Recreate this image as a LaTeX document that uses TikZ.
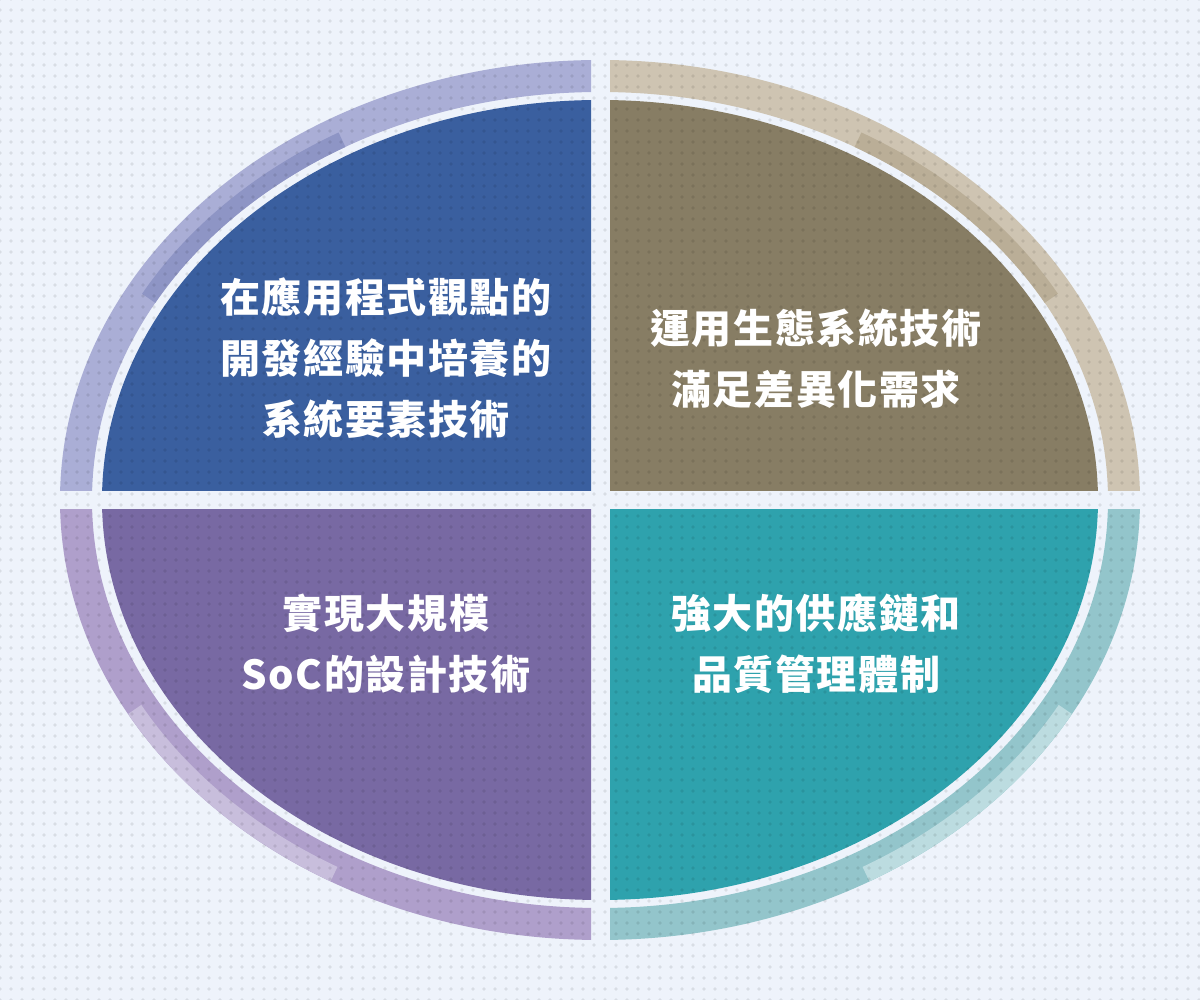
\documentclass[tikz,border=0pt]{standalone}
\usepackage{fontspec}
\newfontfamily\cjk[LetterSpace=4]{Noto Sans CJK TC}
\usetikzlibrary{patterns.meta}
\definecolor{bgc}{HTML}{EEF3FB}
\definecolor{tlfill}{HTML}{3A5F9F}
\definecolor{trfill}{HTML}{877D64}
\definecolor{blfill}{HTML}{7869A3}
\definecolor{brfill}{HTML}{2EA2AD}
\definecolor{tlring}{HTML}{AAAED6}
\definecolor{tlband}{HTML}{8E95C5}
\definecolor{trring}{HTML}{CEC4B2}
\definecolor{trband}{HTML}{BAAE97}
\definecolor{blring}{HTML}{AF9FCB}
\definecolor{blband}{HTML}{C8BEDC}
\definecolor{brring}{HTML}{93C5CB}
\definecolor{brband}{HTML}{BCDCE0}
\begin{document}
\begin{tikzpicture}[x=1pt,y=1pt,
  lbl/.style={text=white, align=center, font=\cjk\bfseries\fontsize{40}{61}\selectfont, inner sep=0pt},
  ringline/.style={line width=32pt},
  bandline/.style={line width=16pt, line cap=butt}]
\fill[bgc] (0,0) rectangle (1200,1000);
\useasboundingbox (0,0) rectangle (1200,1000);
% top left
\begin{scope}
\clip (0,509) rectangle (591,1000);
\fill[tlfill] (600,500) ellipse [x radius=498pt, y radius=400pt];
\draw[ringline, tlring] (600,500) ellipse [x radius=524pt, y radius=424pt];
\draw[bandline, tlband] (600,500) ++(120:516pt and 416pt) arc[start angle=120, end angle=151, x radius=516pt, y radius=416pt];
\end{scope}
% top right
\begin{scope}
\clip (610,509) rectangle (1200,1000);
\fill[trfill] (600,500) ellipse [x radius=498pt, y radius=400pt];
\draw[ringline, trring] (600,500) ellipse [x radius=524pt, y radius=424pt];
\draw[bandline, trband] (600,500) ++(29:516pt and 416pt) arc[start angle=29, end angle=60, x radius=516pt, y radius=416pt];
\end{scope}
% bottom left
\begin{scope}
\clip (0,0) rectangle (591,490);
\fill[blfill] (600,500) ellipse [x radius=498pt, y radius=400pt];
\draw[ringline, blring] (600,500) ellipse [x radius=524pt, y radius=424pt];
\draw[bandline, blband] (600,500) ++(209:532pt and 432pt) arc[start angle=209, end angle=240, x radius=532pt, y radius=432pt];
\end{scope}
% bottom right
\begin{scope}
\clip (610,0) rectangle (1200,490);
\fill[brfill] (600,500) ellipse [x radius=498pt, y radius=400pt];
\draw[ringline, brring] (600,500) ellipse [x radius=524pt, y radius=424pt];
\draw[bandline, brband] (600,500) ++(300:532pt and 432pt) arc[start angle=300, end angle=331, x radius=532pt, y radius=432pt];
\end{scope}
% dot texture
\fill[pattern={Dots[distance=11pt, radius=1.8pt]}, pattern color=black, fill opacity=0.09] (0,0) rectangle (1200,1000);
% labels
\node[lbl] (tl) at (386,642) {在應用程式觀點的\\開發經驗中培養的\\系統要素技術};
\node[lbl] (tr) at (816,641) {運用生態系統技術\\滿足差異化需求};
\node[lbl] (bl) at (386,356) {實現大規模\\SoC的設計技術};
\node[lbl] (br) at (816,356) {強大的供應鏈和\\品質管理體制};
\end{tikzpicture}
\end{document}
